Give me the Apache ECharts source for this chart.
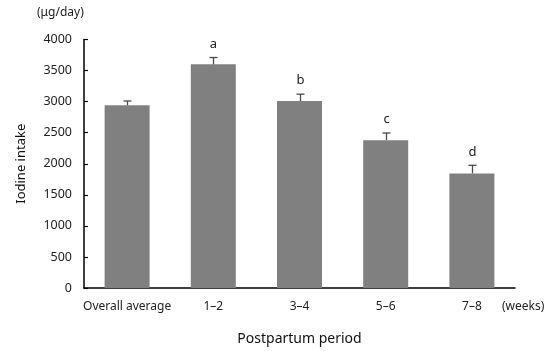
<!DOCTYPE html>
<html>
<head>
<meta charset="utf-8">
<script src="https://cdn.jsdelivr.net/npm/echarts@6/dist/echarts.min.js"></script>
<style>html,body{margin:0;padding:0;background:#fff;}#c{width:550px;height:351px;}</style>
</head>
<body>
<div id="c"></div>
<script>
var categories = ['Overall average', '1\u20132', '3\u20134', '5\u20136', '7\u20138'];
var values = [2940, 3600, 3010, 2380, 1845];
var errors = [70, 110, 110, 115, 130];
var letters = ['', 'a', 'b', 'c', 'd'];
var yTicks = [0, 500, 1000, 1500, 2000, 2500, 3000, 3500, 4000];

var FONT = '"Noto Sans", "Open Sans", sans-serif';
var chart = echarts.init(document.getElementById('c'));
var errData = values.map(function (v, i) { return [i, v, v + errors[i], letters[i]]; });

chart.setOption({
  animation: false,
  grid: { left: 84, right: 35, top: 39.5, bottom: 61.5, containLabel: false },
  xAxis: {
    type: 'category',
    data: categories,
    axisLine: { lineStyle: { color: '#000', width: 1.5 } },
    axisTick: { inside: true, length: 4, lineStyle: { color: '#000', width: 1.2 } },
    axisLabel: { interval: 0, color: '#222', fontSize: 12, fontFamily: FONT, margin: 13 },
    name: 'Postpartum period',
    nameLocation: 'middle',
    nameGap: 44,
    nameTextStyle: { color: '#111', fontSize: 14, fontFamily: FONT }
  },
  yAxis: {
    type: 'value',
    min: yTicks[0],
    max: yTicks[yTicks.length - 1],
    interval: 500,
    axisLine: { show: true, lineStyle: { color: '#000', width: 1.5 } },
    axisTick: { show: true, inside: true, length: 4, lineStyle: { color: '#000', width: 1.2 } },
    splitLine: { show: false },
    axisLabel: { color: '#222', fontSize: 12.5, fontFamily: FONT, margin: 12, formatter: function (v) { return String(v); } },
    name: 'Iodine intake',
    nameLocation: 'middle',
    nameGap: 56,
    nameTextStyle: { color: '#111', fontSize: 13, fontFamily: FONT }
  },
  graphic: [
    { type: 'text', left: 37, top: 7, style: { text: '(\u03bcg/day)', fill: '#222', font: '12px ' + FONT } },
    { type: 'text', left: 502, top: 301, style: { text: '(weeks)', fill: '#222', font: '12px ' + FONT } }
  ],
  series: [
    {
      type: 'bar',
      data: values,
      barWidth: 45,
      itemStyle: { color: '#808080' }
    },
    {
      type: 'custom',
      data: errData,
      z: 5,
      renderItem: function (params, api) {
        var base = api.coord([api.value(0), api.value(1)]);
        var top = api.coord([api.value(0), api.value(2)]);
        var x = Math.round(base[0]) + 0.5;
        var stroke = { stroke: '#4a4a4a', lineWidth: 1.3 };
        var children = [
          { type: 'line', shape: { x1: x, y1: base[1], x2: x, y2: top[1] }, style: stroke },
          { type: 'line', shape: { x1: x - 4, y1: top[1], x2: x + 4, y2: top[1] }, style: stroke }
        ];
        var lt = letters[params.dataIndex];
        if (lt) {
          children.push({ type: 'text', style: { text: lt, x: x, y: top[1] - 7, align: 'center', verticalAlign: 'bottom', fill: '#222', font: '13px ' + FONT } });
        }
        return { type: 'group', children: children };
      }
    }
  ]
});
</script>
</body>
</html>
